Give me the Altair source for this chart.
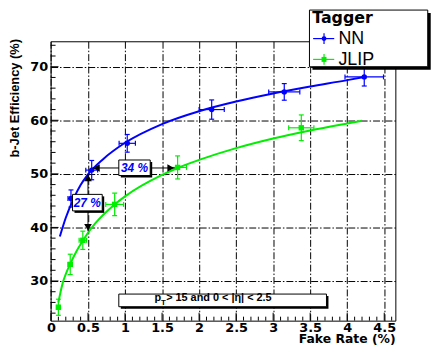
import altair as alt
import pandas as pd

# ---------------- data ----------------
# NN tagger: measured points with errors
nn_x = [0.27, 0.55, 1.03, 2.17, 3.15, 4.23]
nn_y = [45.4, 50.7, 55.7, 62.0, 65.3, 68.1]
nn_xerr = [0.04, 0.08, 0.11, 0.17, 0.21, 0.26]
nn_yerr = [1.6, 1.8, 1.65, 1.8, 1.55, 1.7]

# JLIP tagger: measured points with errors
jl_x = [0.10, 0.26, 0.43, 0.86, 1.71, 3.38]
jl_y = [25.1, 33.1, 37.6, 44.3, 51.2, 58.6]
jl_xerr = [0.02, 0.03, 0.05, 0.12, 0.12, 0.17]
jl_yerr = [1.5, 1.9, 1.7, 2.1, 2.15, 2.4]

# fitted curves
nn_cx = [0.12, 0.2, 0.3, 0.4, 0.5, 0.7, 1.0, 1.5, 2.0, 2.5, 3.0, 3.5, 4.0, 4.23]
nn_cy = [38.3, 41.8, 45.2, 47.9, 49.9, 52.7, 55.8, 59.3, 61.7, 63.5, 65.0, 66.3, 67.5, 68.1]
jl_cx = [0.10, 0.13, 0.16, 0.2, 0.26, 0.35, 0.43, 0.5, 0.6, 0.86, 1.0, 1.5, 1.71, 2.0, 2.5, 3.0, 3.5, 4.0, 4.2]
jl_cy = [26.0, 28.0, 29.7, 31.3, 33.2, 35.7, 37.5, 39.0, 40.8, 44.3, 45.8, 49.8, 51.1, 52.6, 54.8, 56.6, 58.1, 59.4, 59.9]

# axis ticks
x_major = [0, 0.5, 1, 1.5, 2, 2.5, 3, 3.5, 4, 4.5]
x_minor = [round(i * 0.1, 1) for i in range(47) if i % 5]
y_major = [30, 40, 50, 60, 70]
y_minor = [v for v in range(24, 75, 2) if v % 10]

series_names = ["NN", "JLIP"]
legend_title = "Tagger"
x_title = "Fake Rate (%)"
y_title = "b-Jet Efficiency (%)"
label_nn_jl_x = "34 %"
label_nn_jl_y = "27 %"
cut_rest = "> 15 and  0 < |\u03b7| < 2.5"

# ---------------- layout ----------------
W, H = 348, 282
xsc = alt.Scale(domain=[-0.005, 4.65], nice=False, zero=False)
ysc = alt.Scale(domain=[22.6, 74.75], nice=False, zero=False)
BLUE = "#0000ff"
GREEN = "#00ee00"
GRID_DASH = [7, 2, 1.5, 2]

xaxis = alt.Axis(values=x_major, format="~g", title=None, grid=True, gridDash=GRID_DASH,
                 gridColor="black", gridWidth=1, gridOpacity=1, ticks=False, domain=False,
                 labelFont="DejaVu Sans", labelFontWeight="bold", labelFontSize=13,
                 labelColor="black", labelPadding=1, labelFlush=False, labelOverlap=False)
yaxis = alt.Axis(values=y_major, format="d", title=None, grid=True, gridDash=GRID_DASH,
                 gridColor="black", gridWidth=1, gridOpacity=1, ticks=False, domain=False,
                 labelFont="DejaVu Sans", labelFontWeight="bold", labelFontSize=13,
                 labelColor="black", labelPadding=3, labelFlush=False, labelOverlap=False)


def X(f):
    return alt.X(f, type="quantitative", scale=xsc, axis=xaxis)


def Y(f):
    return alt.Y(f, type="quantitative", scale=ysc, axis=yaxis)


def at(**kw):
    return alt.Data(values=[kw])


one = alt.Data(values=[{"a": 1}])

nn_curve = pd.DataFrame({"x": nn_cx, "y": nn_cy})
jl_curve = pd.DataFrame({"x": jl_cx, "y": jl_cy})


def make_err(xs, ys, xe, ye):
    d = pd.DataFrame({"x": xs, "y": ys, "xe": xe, "ye": ye})
    d["xlo"] = d.x - d.xe
    d["xhi"] = d.x + d.xe
    d["ylo"] = d.y - d.ye
    d["yhi"] = d.y + d.ye
    return d


nn = make_err(nn_x, nn_y, nn_xerr, nn_yerr)
jl = make_err(jl_x, jl_y, jl_xerr, jl_yerr)

layers = []
layers.append(alt.Chart(nn_curve).mark_line(color=BLUE, strokeWidth=2, interpolate="monotone")
              .encode(x=X("x"), y=Y("y")))

# inside ticks
layers.append(alt.Chart(pd.DataFrame({"v": x_major})).mark_rule(color="black")
              .encode(x=X("v"), y=alt.value(H), y2=alt.value(H - 8)))
layers.append(alt.Chart(pd.DataFrame({"v": x_minor})).mark_rule(color="black")
              .encode(x=X("v"), y=alt.value(H), y2=alt.value(H - 4)))
layers.append(alt.Chart(pd.DataFrame({"v": y_major})).mark_rule(color="black")
              .encode(y=Y("v"), x=alt.value(0), x2=alt.value(8)))
layers.append(alt.Chart(pd.DataFrame({"v": y_minor})).mark_rule(color="black")
              .encode(y=Y("v"), x=alt.value(0), x2=alt.value(5)))

layers.append(alt.Chart(jl_curve).mark_line(color=GREEN, strokeWidth=2, interpolate="monotone")
              .encode(x=X("x"), y=Y("y")))


def series(d, color, shape):
    out = []
    out.append(alt.Chart(d).mark_rule(color=color, strokeWidth=1.2)
               .encode(x=X("xlo"), x2="xhi", y=Y("y")))
    out.append(alt.Chart(d).mark_rule(color=color, strokeWidth=1.2)
               .encode(x=X("x"), y=Y("ylo"), y2="yhi"))
    for f in ["xlo", "xhi"]:
        out.append(alt.Chart(d).mark_tick(color=color, orient="vertical", size=5, thickness=1.2, opacity=1)
                   .encode(x=X(f), y=Y("y")))
    for f in ["ylo", "yhi"]:
        out.append(alt.Chart(d).mark_tick(color=color, orient="horizontal", size=5, thickness=1.2, opacity=1)
                   .encode(x=X("x"), y=Y(f)))
    out.append(alt.Chart(d).mark_point(color=color, shape=shape, filled=True, size=30, opacity=1)
               .encode(x=X("x"), y=Y("y")))
    return out


layers += series(nn, BLUE, "circle")
layers += series(jl, GREEN, "square")

# arrows
layers.append(alt.Chart(at(x=0.5, y1=50.0, y2=39.3)).mark_rule(color="black", strokeWidth=1)
              .encode(x=X("x"), y=Y("y1"), y2="y2"))
layers.append(alt.Chart(at(x1=0.56, x2=1.67, y=51.1)).mark_rule(color="black", strokeWidth=1)
              .encode(x=X("x1"), x2="x2", y=Y("y")))
layers.append(alt.Chart(at(x=0.5, y=50.0)).mark_point(shape="triangle-up", filled=True, color="black",
                                                       size=60, opacity=1, yOffset=4)
              .encode(x=X("x"), y=Y("y")))
layers.append(alt.Chart(at(x=0.5, y=39.3)).mark_point(shape="triangle-down", filled=True, color="black",
                                                       size=60, opacity=1, yOffset=-4)
              .encode(x=X("x"), y=Y("y")))
layers.append(alt.Chart(at(x=0.56, y=51.1)).mark_point(shape="triangle-left", filled=True, color="black",
                                                        size=60, opacity=1, xOffset=4)
              .encode(x=X("x"), y=Y("y")))
layers.append(alt.Chart(at(x=1.67, y=51.1)).mark_point(shape="triangle-right", filled=True, color="black",
                                                        size=60, opacity=1, xOffset=-4)
              .encode(x=X("x"), y=Y("y")))


def box(x1, x2, y1, y2, shadow=2):
    out = []
    out.append(alt.Chart(at(x1=x1, x2=x2, y1=y1, y2=y2))
               .mark_rect(fill="black", xOffset=shadow, x2Offset=shadow, yOffset=shadow, y2Offset=shadow)
               .encode(x=X("x1"), x2="x2", y=Y("y1"), y2="y2"))
    out.append(alt.Chart(at(x1=x1, x2=x2, y1=y1, y2=y2))
               .mark_rect(fill="white", stroke="black", strokeWidth=1)
               .encode(x=X("x1"), x2="x2", y=Y("y1"), y2="y2"))
    return out


layers += box(0.916, 1.34, 49.69, 52.59)
layers.append(alt.Chart(at(x=1.128, y=51.1)).mark_text(text=label_nn_jl_x, font="Liberation Sans",
                                                        fontWeight="bold", fontStyle="italic", fontSize=12,
                                                        color=BLUE, align="center", baseline="middle")
              .encode(x=X("x"), y=Y("y")))
layers += box(0.291, 0.692, 43.09, 46.17)
layers.append(alt.Chart(at(x=0.49, y=44.63)).mark_text(text=label_nn_jl_y, font="Liberation Sans",
                                                        fontWeight="bold", fontStyle="italic", fontSize=12,
                                                        color=BLUE, align="center", baseline="middle")
              .encode(x=X("x"), y=Y("y")))

# bottom cut box
layers += box(0.916, 3.72, 25.2, 27.56)
layers.append(alt.Chart(at(x=1.397, y=26.75)).mark_text(text="p", font="Liberation Sans", fontWeight="bold",
                                                         fontSize=11, color="black", align="left",
                                                         baseline="middle")
              .encode(x=X("x"), y=Y("y")))
layers.append(alt.Chart(at(x=1.485, y=25.95)).mark_text(text="T", font="Liberation Sans", fontWeight="bold",
                                                         fontSize=8, color="black", align="left",
                                                         baseline="middle")
              .encode(x=X("x"), y=Y("y")))
layers.append(alt.Chart(at(x=1.555, y=26.75)).mark_text(text=cut_rest, font="Liberation Sans", fontWeight="bold",
                                                         fontSize=11, color="black", align="left",
                                                         baseline="middle")
              .encode(x=X("x"), y=Y("y")))


# legend (pixel positions relative to plot origin)
def prect(x1, x2, y1, y2, **kw):
    return alt.Chart(one).mark_rect(**kw).encode(x=alt.value(x1), x2=alt.value(x2),
                                                  y=alt.value(y1), y2=alt.value(y2))


def prule(x1, x2, y1, y2, color):
    return alt.Chart(one).mark_rule(color=color, strokeWidth=1.2).encode(
        x=alt.value(x1), x2=alt.value(x2), y=alt.value(y1), y2=alt.value(y2))


layers.append(prect(264.3, 383.7, -28.5, 28.7, fill="black"))
layers.append(prect(261.3, 380.7, -31.5, 25.7, fill="white", stroke="black", strokeWidth=1))
layers.append(alt.Chart(one).mark_text(text=legend_title, font="DejaVu Sans", fontWeight="bold", fontSize=16,
                                       align="left", baseline="middle", color="black")
              .encode(x=alt.value(264), y=alt.value(-23.5)))
for name, color, shape, yy in [(series_names[0], BLUE, "circle", -2.7), (series_names[1], GREEN, "square", 18.3)]:
    layers.append(prule(265, 286.3, yy, yy, color))
    layers.append(prule(276, 276, yy - 5.5, yy + 5.5, color))
    layers.append(alt.Chart(one).mark_point(shape=shape, filled=True, color=color, size=25, opacity=1)
                  .encode(x=alt.value(276), y=alt.value(yy)))
    layers.append(alt.Chart(one).mark_text(text=name, font="Liberation Sans", fontSize=18, align="left",
                                           baseline="middle", color="black")
                  .encode(x=alt.value(290.5), y=alt.value(yy + 0.5)))

# axis titles
layers.append(alt.Chart(one).mark_text(text=x_title, font="DejaVu Sans", fontWeight="bold", fontSize=12.5,
                                       align="right", baseline="alphabetic", color="black")
              .encode(x=alt.value(348.3), y=alt.value(304.5)))
layers.append(alt.Chart(one).mark_text(text=y_title, font="Liberation Sans", fontWeight="bold", fontSize=13,
                                       align="center", baseline="middle", angle=270, color="black")
              .encode(x=alt.value(-36), y=alt.value(57.5)))

chart = alt.layer(*layers).properties(
    width=W, height=H,
    padding={"left": 43, "top": 32, "right": 38, "bottom": 24},
    autosize=alt.AutoSizeParams(type="none"),
    background="white",
).configure_view(stroke="black", strokeWidth=1)

chart.save("out.html", embed_options={"renderer": "svg", "actions": False})
